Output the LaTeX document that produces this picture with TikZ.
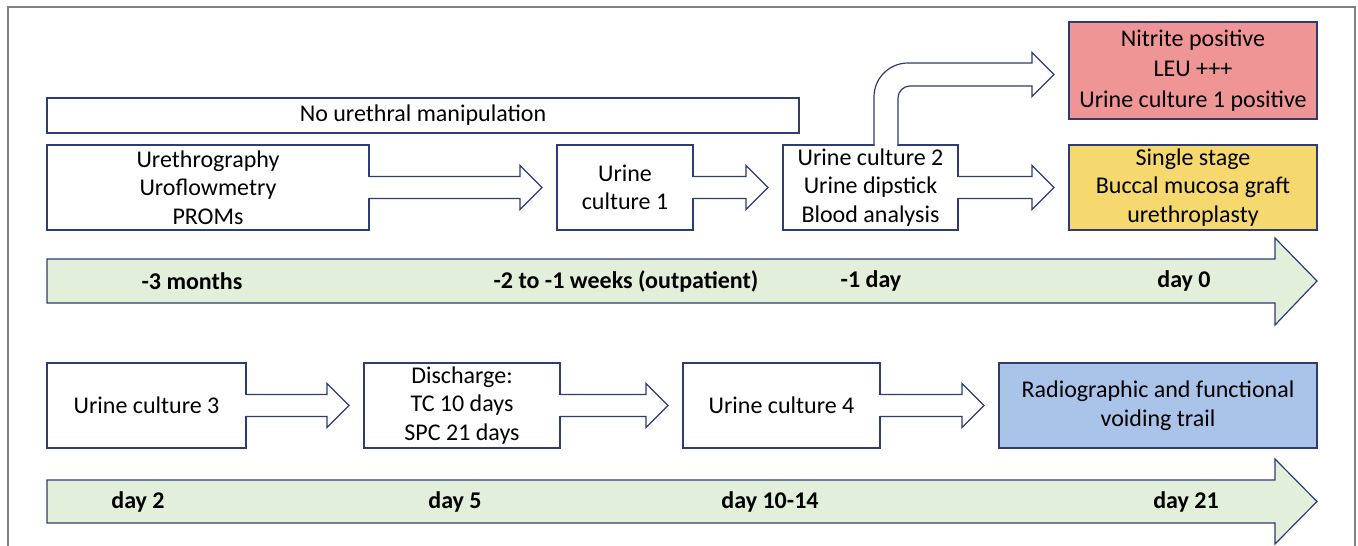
\documentclass[tikz,border=0pt]{standalone}
\usepackage{fontspec}
\setmainfont{Carlito}
\usetikzlibrary{calc}
\definecolor{navy}{HTML}{2F3C73}
\definecolor{redfill}{HTML}{F09595}
\definecolor{yelfill}{HTML}{F6D96E}
\definecolor{bluefill}{HTML}{A9C4E8}
\definecolor{greenfill}{HTML}{E2EFDA}
\definecolor{framegray}{HTML}{808080}
\newcommand\blkarrow[2]{%
  \fill[white] ($(#1.east)+(-1,-10.4)$) rectangle ($(#1.east)+(1,10.4)$);
  \path[arrowline] ($(#1.east)+(0,-11)$) -- ($(#2.west)+(-37,-11)$) -- ($(#2.west)+(-37,-22)$)
     -- ($(#2.west)+(-15,0)$) -- ($(#2.west)+(-37,22)$) -- ($(#2.west)+(-37,11)$) -- ($(#1.east)+(0,11)$);
}
\begin{document}
\begin{tikzpicture}[x=1pt,y=-1pt,
  box/.style={draw=navy, line width=1.2pt, fill=white, inner sep=0pt, outer sep=0pt,
    align=center, font=\fontsize{24}{28.5}\selectfont, text=black},
  barline/.style={draw=navy, line width=1.2pt, fill=greenfill, line join=miter},
  bartext/.style={font=\fontsize{24}{28.5}\selectfont\bfseries, inner sep=0pt, text=black},
  arrowline/.style={draw=navy, line width=1.2pt, fill=white, line join=miter},
]
\useasboundingbox (0,0) rectangle (1358,546);
\fill[white] (0,0) rectangle (1358,546);
\draw[framegray, line width=1.8pt] (8,548) -- (8,7) -- (1355,7) -- (1355,548);

% row 1 boxes
\node[box, minimum width=752pt, minimum height=35pt] (noman) at (423,115.5) {No urethral manipulation};
\node[box, minimum width=322pt, minimum height=85pt] (a) at (208,187.5) {Urethrography\\Uroflowmetry\\PROMs};
\node[box, minimum width=136pt, minimum height=85pt] (b) at (625,187.5) {Urine\\culture 1};
\node[box, minimum width=175pt, minimum height=85pt] (c) at (870.5,187.5) {Urine culture 2\\Urine dipstick\\Blood analysis};
\node[box, fill=redfill, minimum width=248pt, minimum height=97pt, font=\fontsize{24}{30.5}\selectfont] (red) at (1193,70.5) {Nitrite positive\\LEU +++\\Urine culture 1 positive};
\node[box, fill=yelfill, minimum width=248pt, minimum height=85pt] (yellow) at (1193,187.5) {Single stage\\Buccal mucosa graft\\urethroplasty};

% row 2 boxes
\node[box, minimum width=199pt, minimum height=85pt] (uc3) at (146.5,405.5) {Urine culture 3};
\node[box, minimum width=196pt, minimum height=85pt] (dis) at (462,405.5) {Discharge:\\TC 10 days\\SPC 21 days};
\node[box, minimum width=197pt, minimum height=85pt] (uc4) at (781.5,405.5) {Urine culture 4};
\node[box, fill=bluefill, minimum width=318pt, minimum height=85pt] (blue) at (1158,405.5) {Radiographic and functional\\voiding trail};

% block arrows
\blkarrow{a}{b}
\blkarrow{b}{c}
\blkarrow{c}{yellow}
\blkarrow{uc3}{dis}
\blkarrow{dis}{uc4}
\blkarrow{uc4}{blue}

% curved block arrow from c to red
\coordinate (up) at ($(c.north)+(15.5,0)$);
\coordinate (tipc) at ($(red.west)+(-15,4)$);
\coordinate (turn) at (up |- tipc);
\fill[white] ($(up)+(-11.4,-1)$) rectangle ($(up)+(11.4,1)$);
\path[arrowline] ($(up)+(-12,0)$) -- ($(turn)+(-12,22.5)$)
  .. controls ($(turn)+(-12,3.7)$) and ($(turn)+(3.2,-11.5)$) .. ($(turn)+(22,-11.5)$)
  -- ($(tipc)+(-22,-11.5)$) -- ($(tipc)+(-22,-22)$) -- (tipc) -- ($(tipc)+(-22,22)$)
  -- ($(tipc)+(-22,11.5)$) -- ($(turn)+(24,11.5)$)
  .. controls ($(turn)+(17.4,11.5)$) and ($(turn)+(12,16.9)$) .. ($(turn)+(12,23.5)$)
  -- ($(up)+(12,0)$);

% timeline bars
\path[barline] (47,259) -- (1275,259) -- (1275,238) -- (1317,281) -- (1275,325) -- (1275,303) -- (47,303) -- cycle;
\node[bartext] (t1) at (192,281) {-3 months};
\node[bartext] (t2) at (626,281) {-2 to -1 weeks (outpatient)};
\node[bartext] (t3) at (871,281) {-1 day};
\node[bartext] (t4) at (1184,281) {day 0};

\path[barline] (47,480) -- (1275,480) -- (1275,459) -- (1317,501.5) -- (1275,544) -- (1275,523) -- (47,523) -- cycle;
\node[bartext] (s1) at (138,501.5) {day 2};
\node[bartext] (s2) at (455,501.5) {day 5};
\node[bartext] (s3) at (770,501.5) {day 10-14};
\node[bartext] (s4) at (1186,501.5) {day 21};
\end{tikzpicture}
\end{document}
